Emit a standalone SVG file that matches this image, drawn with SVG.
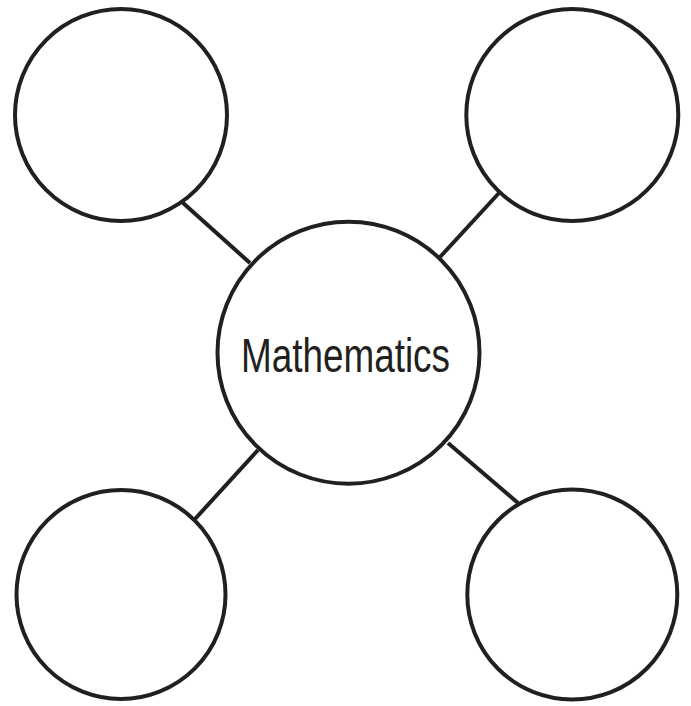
<svg xmlns="http://www.w3.org/2000/svg" width="691" height="706" viewBox="0 0 691 706">
<style>
.n{fill:#fff;stroke:#231f20;stroke-width:4}
.c{stroke:#231f20;stroke-width:4;fill:none}
.t{font-family:"Liberation Sans Narrow","Liberation Sans",Arial,sans-serif;font-size:48px;fill:#231f20}
</style>
<rect width="691" height="706" fill="#fff"/>
<g id="connectors">
<line class="c" x1="182" y1="202" x2="250" y2="263"/>
<line class="c" x1="499" y1="193" x2="440" y2="257"/>
<line class="c" x1="258" y1="450" x2="195" y2="519"/>
<line class="c" x1="448" y1="443" x2="518" y2="503"/>
</g>
<g id="center"><circle class="n" cx="348.5" cy="352.7" r="131"/>
<text class="t" x="345.5" y="371.5" text-anchor="middle" textLength="209" lengthAdjust="spacingAndGlyphs">Mathematics</text></g>
<g id="topLeft"><circle class="n" cx="121" cy="115" r="106"/></g>
<g id="topRight"><circle class="n" cx="572.3" cy="115" r="106"/></g>
<g id="bottomLeft"><circle class="n" cx="121" cy="594.5" r="104.5"/></g>
<g id="bottomRight"><circle class="n" cx="572.3" cy="594.5" r="105"/></g>
</svg>
